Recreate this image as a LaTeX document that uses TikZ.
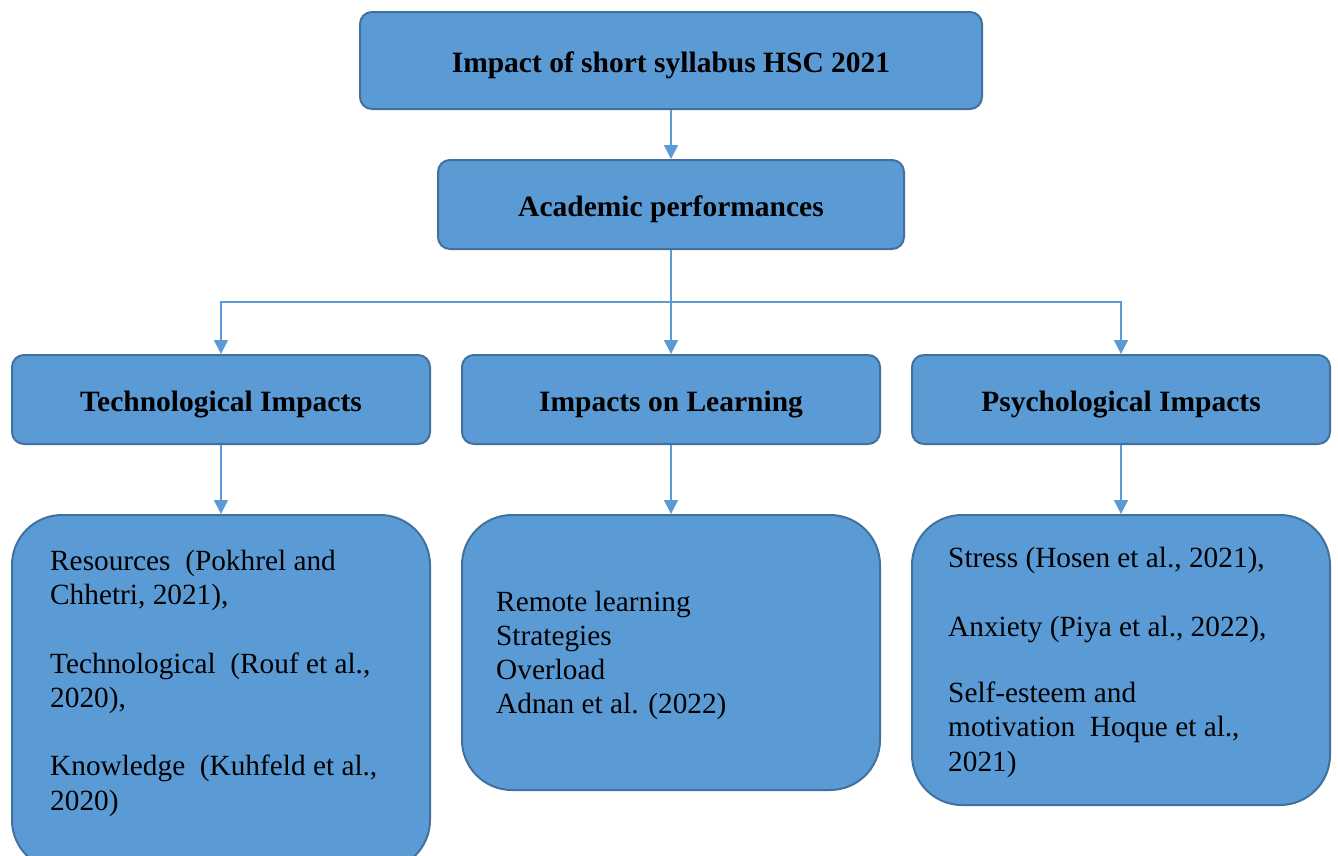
\documentclass[tikz,border=0pt]{standalone}
\usepackage{fontspec}
\setmainfont{Liberation Serif}
\usetikzlibrary{arrows.meta}
\definecolor{boxfill}{HTML}{5B9BD5}
\definecolor{boxline}{HTML}{41719C}
\begin{document}
\begin{tikzpicture}[x=1pt,y=-1pt,
  box/.style={draw=boxline, fill=boxfill, line width=2pt, rounded corners=12pt,
    inner sep=0pt, text height=24pt, text depth=0pt,
    font=\fontsize{29.5}{34}\selectfont\bfseries},
  bigbox/.style={draw=boxline, fill=boxfill, line width=2pt, rounded corners=50pt, inner sep=0pt},
  body/.style={anchor=base west, inner sep=0pt, align=left,
    font=\fontsize{29.3}{34.2}\selectfont},
  link/.style={draw=boxfill, line width=1.5pt, -{Triangle[length=14pt,width=14pt]}},
]
\useasboundingbox (0,0) rectangle (1338,855);

% top levels
\node[box, minimum width=622pt, minimum height=97pt] (top) at (671,60.5) {Impact of short syllabus HSC 2021};
\node[box, minimum width=466pt, minimum height=89pt] (acad) at (671,204.5) {Academic performances};

% three impact categories
\node[box, minimum width=418pt, minimum height=89pt] (tech) at (221,399.5) {Technological Impacts};
\node[box, minimum width=418pt, minimum height=89pt] (learn) at (671,399.5) {Impacts on Learning};
\node[box, minimum width=418pt, minimum height=89pt] (psych) at (1121,399.5) {Psychological Impacts};

% detail boxes
\node[bigbox, minimum width=418pt, minimum height=355pt] (techd) at (221,692.5) {};
\node[bigbox, minimum width=418pt, minimum height=275pt] (learnd) at (671,652.5) {};
\node[bigbox, minimum width=418pt, minimum height=290pt] (psychd) at (1121,660) {};

% detail texts (anchored at the baseline of their last line)
\node[body] (techt) at (50,810) {Resources\ \ (Pokhrel and\\Chhetri, 2021),\\[34.2pt]Technological\ \ (Rouf et al.,\\2020),\\[34.2pt]Knowledge\ \ (Kuhfeld et al.,\\2020)};
\node[body, font=\fontsize{29.3}{33.7}\selectfont] (learnt) at (496,713) {Remote learning\\Strategies\\Overload\\Adnan et al. (2022)};
\node[body] (psycht) at (948,771) {Stress (Hosen et al., 2021),\\[34.6pt]Anxiety (Piya et al., 2022),\\[32pt]Self-esteem and\\motivation\ \ Hoque et al.,\\2021)};

% connectors
\coordinate (split) at (671,302);
\draw[link] (top) -- (acad);
\draw[link] (acad) -- (learn);
\draw[link] (acad.south) -- (split) -| (tech.north);
\draw[link] (acad.south) -- (split) -| (psych.north);
\draw[link] (tech) -- (techd);
\draw[link] (learn) -- (learnd);
\draw[link] (psych) -- (psychd);
\end{tikzpicture}
\end{document}
